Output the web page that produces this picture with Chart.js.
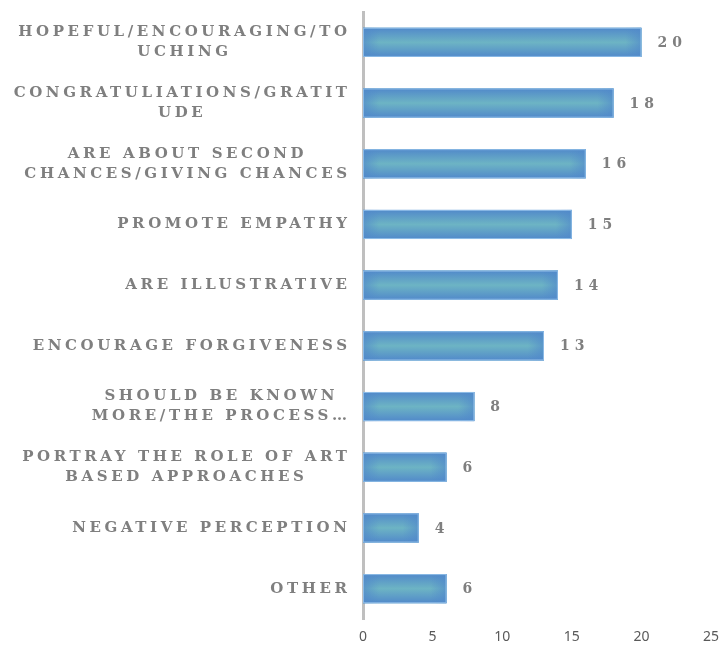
<!DOCTYPE html>
<html>
<head>
<meta charset="utf-8">
<script src="https://cdn.jsdelivr.net/npm/chart.js@4.4.1/dist/chart.umd.min.js"></script>
<style>
  html, body { margin: 0; padding: 0; background: #fff; }
  #wrap { width: 722px; height: 650px; }
</style>
</head>
<body>
<div id="wrap"><canvas id="chart"></canvas></div>
<script>
// categories (each entry = the wrapped lines of one label)
const categories = [
  ["HOPEFUL/ENCOURAGING/TO", "UCHING"],
  ["CONGRATULIATIONS/GRATIT", "UDE"],
  ["ARE ABOUT SECOND", "CHANCES/GIVING CHANCES"],
  ["PROMOTE EMPATHY"],
  ["ARE ILLUSTRATIVE"],
  ["ENCOURAGE FORGIVENESS"],
  ["SHOULD BE KNOWN", "MORE/THE PROCESS\u2026"],
  ["PORTRAY THE ROLE OF ART", "BASED APPROACHES"],
  ["NEGATIVE PERCEPTION"],
  ["OTHER"]
];
const counts = [20, 18, 16, 15, 14, 13, 8, 6, 4, 6];
const xTicks = [0, 5, 10, 15, 20, 25];

const labelFont = 'bold 15px "DejaVu Serif"';
const labelColor = "#7f7f7f";
const labelRight = 347;
const lineGap = 20;

// spaced-out category labels, centred line by line, block aligned right
const categoryLabels = {
  id: "categoryLabels",
  afterDraw(chart) {
    const { ctx } = chart;
    const y = chart.scales.y;
    const sp = 3.6;
    ctx.save();
    ctx.font = labelFont;
    ctx.letterSpacing = sp + "px";
    ctx.fillStyle = labelColor;
    ctx.textAlign = "left";
    ctx.textBaseline = "middle";
    categories.forEach((lines, i) => {
      const cy = y.getPixelForValue(i);
      const widths = lines.map(l => ctx.measureText(l).width - sp);
      const block = Math.max(...widths);
      const cx = labelRight - block / 2;
      const y0 = cy - (lines.length - 1) * lineGap / 2;
      lines.forEach((l, k) => ctx.fillText(l, cx - widths[k] / 2, y0 + k * lineGap));
    });
    ctx.restore();
  }
};

// value labels to the right of each bar
const valueLabels = {
  id: "valueLabels",
  afterDatasetsDraw(chart) {
    const { ctx } = chart;
    const meta = chart.getDatasetMeta(0);
    ctx.save();
    ctx.font = 'bold 14px "DejaVu Serif"';
    ctx.letterSpacing = "5px";
    ctx.fillStyle = "#7f7f7f";
    ctx.textAlign = "left";
    ctx.textBaseline = "middle";
    meta.data.forEach((bar, i) => {
      ctx.fillText(String(counts[i]), bar.x + 16, bar.y + 1);
    });
    ctx.restore();
  }
};

// shaded fill: teal core fading to blue at the edges
const barShade = {
  id: "barShade",
  afterDatasetsDraw(chart) {
    const { ctx } = chart;
    const meta = chart.getDatasetMeta(0);
    ctx.save();
    meta.data.forEach(bar => {
      const x0 = Math.min(bar.base, bar.x), x1 = Math.max(bar.base, bar.x);
      const y0 = bar.y - bar.height / 2, y1 = bar.y + bar.height / 2;
      const w = x1 - x0, h = y1 - y0;
      const gv = ctx.createLinearGradient(0, y0, 0, y1);
      gv.addColorStop(0, "#5189ca");
      gv.addColorStop(0.5, "#6db4c4");
      gv.addColorStop(1, "#5189ca");
      ctx.fillStyle = gv;
      ctx.fillRect(x0, y0, w, h);
      const edge = Math.min(16, w / 3);
      const gh = ctx.createLinearGradient(x0, 0, x1, 0);
      gh.addColorStop(0, "rgba(81,137,202,0.7)");
      gh.addColorStop(edge / w, "rgba(81,137,202,0)");
      gh.addColorStop(1 - edge / w, "rgba(81,137,202,0)");
      gh.addColorStop(1, "rgba(81,137,202,0.7)");
      ctx.fillStyle = gh;
      ctx.fillRect(x0, y0, w, h);
      ctx.strokeStyle = "#8dbbe6";
      ctx.lineWidth = 1;
      ctx.strokeRect(x0 + 0.5, y0 + 0.5, w - 1, h - 1);
    });
    ctx.restore();
  }
};

new Chart(document.getElementById("chart"), {
  type: "bar",
  data: {
    labels: categories,
    datasets: [{
      data: counts,
      backgroundColor: "#6db4c4",
      borderWidth: 0,
      barPercentage: 1,
      categoryPercentage: 0.48
    }]
  },
  options: {
    indexAxis: "y",
    responsive: true,
    maintainAspectRatio: false,
    animation: false,
    layout: { padding: { top: 12, right: 0, bottom: 0, left: 0 } },
    plugins: { legend: { display: false }, tooltip: { enabled: false } },
    scales: {
      x: {
        min: 0,
        max: xTicks[xTicks.length - 1],
        afterBuildTicks: (s) => { s.ticks = xTicks.map(v => ({ value: v })); },
        afterFit: (s) => { s.height = 31; s.paddingRight = 11; s.paddingLeft = 0; },
        grid: { display: false, drawTicks: false },
        border: { display: false },
        ticks: { color: "#595959", padding: 10, font: { family: "Noto Sans", size: 14 } }
      },
      y: {
        grid: { display: false, drawTicks: false },
        border: { display: true, color: "#bfbfbf", width: 3 },
        ticks: { display: false },
        afterFit: (s) => { s.width = 363; }
      }
    }
  },
  plugins: [barShade, valueLabels, categoryLabels]
});
</script>
</body>
</html>
